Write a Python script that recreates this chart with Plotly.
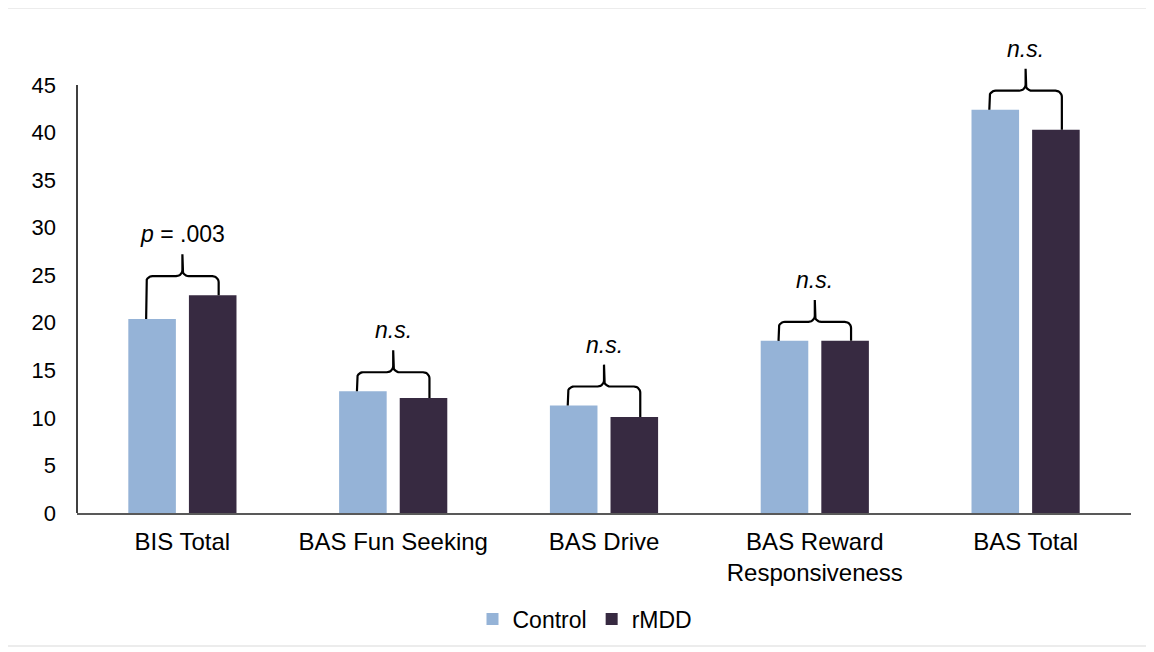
import numpy as np
import plotly.graph_objects as go

# Scale names and group means
categories = ["BIS Total", "BAS Fun Seeking", "BAS Drive",
              "BAS Reward<br>Responsiveness", "BAS Total"]
control = [20.4, 12.8, 11.3, 18.1, 42.4]
rmdd = [22.9, 12.1, 10.1, 18.1, 40.3]
sig_labels = ["<i>p</i> = .003", "<i>n.s.</i>", "<i>n.s.</i>", "<i>n.s.</i>", "<i>n.s.</i>"]
y_ticks = [0, 5, 10, 15, 20, 25, 30, 35, 40, 45]

CONTROL_COLOR = "#95B3D7"
RMDD_COLOR = "#372A41"
FONT = "Liberation Sans, Arial, sans-serif"

# the page body has an 8px margin, so the plot box is laid out against that
W, H = 1154, 652
BODY = 8
plot_left, plot_right = 77, 1131
axis_top, axis_bottom = 85, 513   # pixel rows of 45 and 0
plot_top = 20                     # extra headroom for the brackets / labels
y_max_tick = y_ticks[-1]
px_per_unit = (axis_bottom - axis_top) / y_max_tick
y_top = y_max_tick + (axis_top - plot_top) / px_per_unit
plot_h = axis_bottom - plot_top
plot_w = plot_right - plot_left


def paper_x(px):
    return (px - plot_left) / plot_w


def paper_y(py):
    return (axis_bottom - py) / plot_h


x = np.arange(len(categories))

fig = go.Figure()
fig.add_trace(go.Bar(x=x, y=control, name="Control", marker_color=CONTROL_COLOR,
                     marker_line_width=0))
fig.add_trace(go.Bar(x=x, y=rmdd, name="rMDD", marker_color=RMDD_COLOR,
                     marker_line_width=0))


def brace(xc, y_left, y_right, half=0.172, lift=2.0, peak=2.3):
    """curly bracket joining two bars, rounded corners"""
    yh = max(y_left, y_right) + lift
    rx, ry = 0.03, 0.65
    t = np.linspace(0, np.pi / 2, 8)
    xs, ys = [], []
    xs += [xc - half]
    ys += [y_left]
    xs += list(xc - half + rx - rx * np.cos(t))
    ys += list(yh - ry + ry * np.sin(t))
    xs += list(xc - rx + rx * np.sin(t))
    ys += list(yh + ry - ry * np.cos(t))
    xs += [xc, xc]
    ys += [yh + peak, yh + ry]
    xs += list(xc + rx - rx * np.cos(t))
    ys += list(yh + ry - ry * np.sin(t))
    xs += list(xc + half - rx + rx * np.sin(t))
    ys += list(yh - ry + ry * np.cos(t))
    xs += [xc + half]
    ys += [y_right]
    return xs, ys, yh + peak


annotations = []
for i in range(len(categories)):
    bx, by, top = brace(x[i], control[i], rmdd[i])
    fig.add_trace(go.Scatter(x=bx, y=by, mode="lines", line=dict(color="black", width=2.2),
                             showlegend=False, hoverinfo="skip"))
    annotations.append(dict(x=x[i], y=top, text=sig_labels[i], showarrow=False,
                            xref="x", yref="y", yanchor="bottom", yshift=5,
                            font=dict(size=23, color="black", family=FONT)))

fig.update_layout(
    width=W, height=H,
    margin=dict(l=plot_left - BODY, r=W - plot_right + BODY,
                t=plot_top - BODY, b=H - axis_bottom + BODY),
    plot_bgcolor="white", paper_bgcolor="white",
    barmode="group", bargap=0.425, bargroupgap=0.215,
    font=dict(family=FONT, size=24, color="black"),
    showlegend=True,
    legend=dict(orientation="h", x=paper_x(585), xanchor="center",
                y=paper_y(619), yanchor="middle",
                font=dict(size=23), tracegroupgap=0),
    annotations=annotations,
    shapes=[
        # light frame round the whole chart
        dict(type="rect", xref="paper", yref="paper",
             x0=paper_x(7), x1=paper_x(1147), y0=paper_y(646), y1=paper_y(8),
             line=dict(color="#D9D9D9", width=1.2)),
        # value axis line, stopping at the top tick
        dict(type="line", xref="paper", yref="y", x0=0, x1=0, y0=0, y1=y_max_tick,
             line=dict(color="black", width=1.5)),
    ],
)
fig.update_xaxes(range=[-0.5, 4.5], tickvals=x, ticktext=categories, showgrid=False,
                 zeroline=False, showline=True, linecolor="#595959", linewidth=1.5,
                 ticks="", ticklabelstandoff=6, tickfont=dict(size=24))
fig.update_yaxes(range=[0, y_top], tickvals=y_ticks, showgrid=False, zeroline=False,
                 showline=False, ticks="", ticklabelstandoff=20, tickfont=dict(size=22))

fig.write_html("out.html")
